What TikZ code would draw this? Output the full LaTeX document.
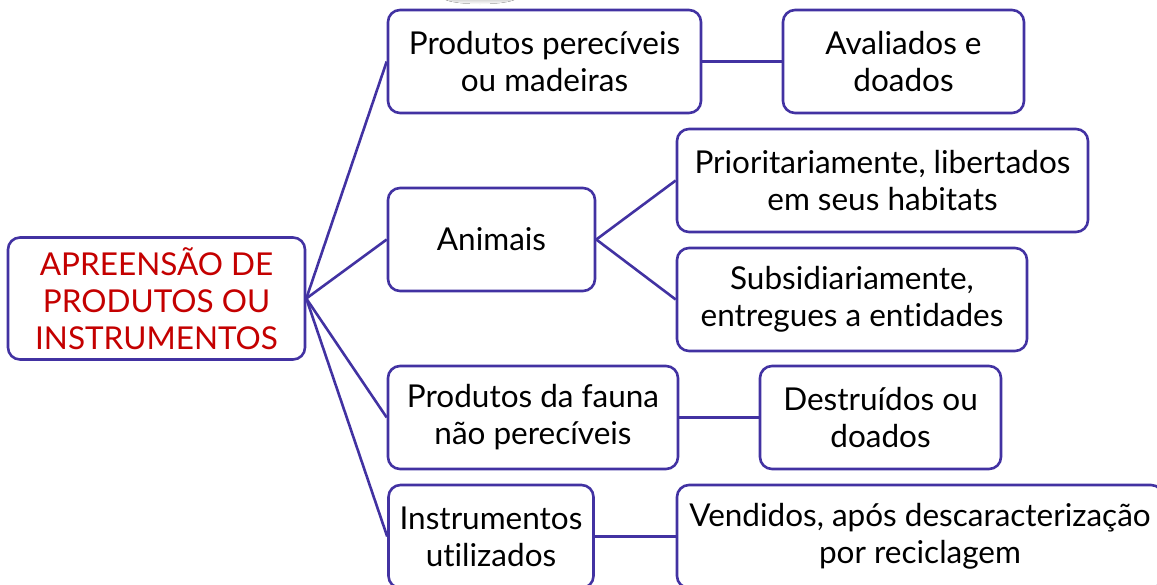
\documentclass[tikz,border=0pt]{standalone}
\usepackage{fontspec}
\setmainfont{Lato}[Ligatures=NoCommon]
\definecolor{linecol}{RGB}{66,50,162}
\definecolor{rootred}{RGB}{196,0,0}
\definecolor{shade}{RGB}{228,233,236}
\tikzset{
  box/.style={draw=linecol, line width=2.6pt, rounded corners=12pt, align=center,
    minimum height=103pt, inner sep=0pt, fill=white,
    font=\fontsize{31.5}{37}\selectfont},
  link/.style={draw=linecol, line width=2.6pt}
}
\begin{document}
\begin{tikzpicture}[x=1pt, y=-1pt]
\useasboundingbox (0,0) rectangle (1157,584);
\fill[shade] (480,-3) ellipse (38 and 7);
\node[box, minimum width=297pt, minimum height=122pt, text=rootred] (root) at (156.5,298.5) {APREENSÃO DE\\PRODUTOS OU\\INSTRUMENTOS};
\node[box, minimum width=313pt] (perec) at (544.5,61.5) {Produtos perecíveis\\ou madeiras};
\node[box, minimum width=241pt] (aval) at (903.5,61.5) {Avaliados e\\doados};
\node[box, minimum width=207pt] (anim) at (491.5,239.5) {Animais};
\node[box, minimum width=411pt] (prior) at (882.5,180.5) {Prioritariamente, libertados\\em seus habitats};
\node[box, minimum width=350pt] (subs) at (852,299.5) {Subsidiariamente,\\entregues a entidades};
\node[box, minimum width=290pt] (fauna) at (533,417.5) {Produtos da fauna\\não perecíveis};
\node[box, minimum width=241pt] (destr) at (880.5,417.5) {Destruídos ou\\doados};
\node[box, minimum width=205pt] (instr) at (491,536.5) {Instrumentos\\utilizados};
\node[box, minimum width=486pt] (vend) at (920,536.5) {Vendidos, após descaracterização\\por reciclagem};
\path[link] (root.east) -- (perec.west);
\path[link] (root.east) -- (anim.west);
\path[link] (root.east) -- (fauna.west);
\path[link] (root.east) -- (instr.west);
\path[link] (perec) -- (aval);
\path[link] (anim.east) -- (prior.west);
\path[link] (anim.east) -- (subs.west);
\path[link] (fauna) -- (destr);
\path[link] (instr) -- (vend);
\end{tikzpicture}
\end{document}
